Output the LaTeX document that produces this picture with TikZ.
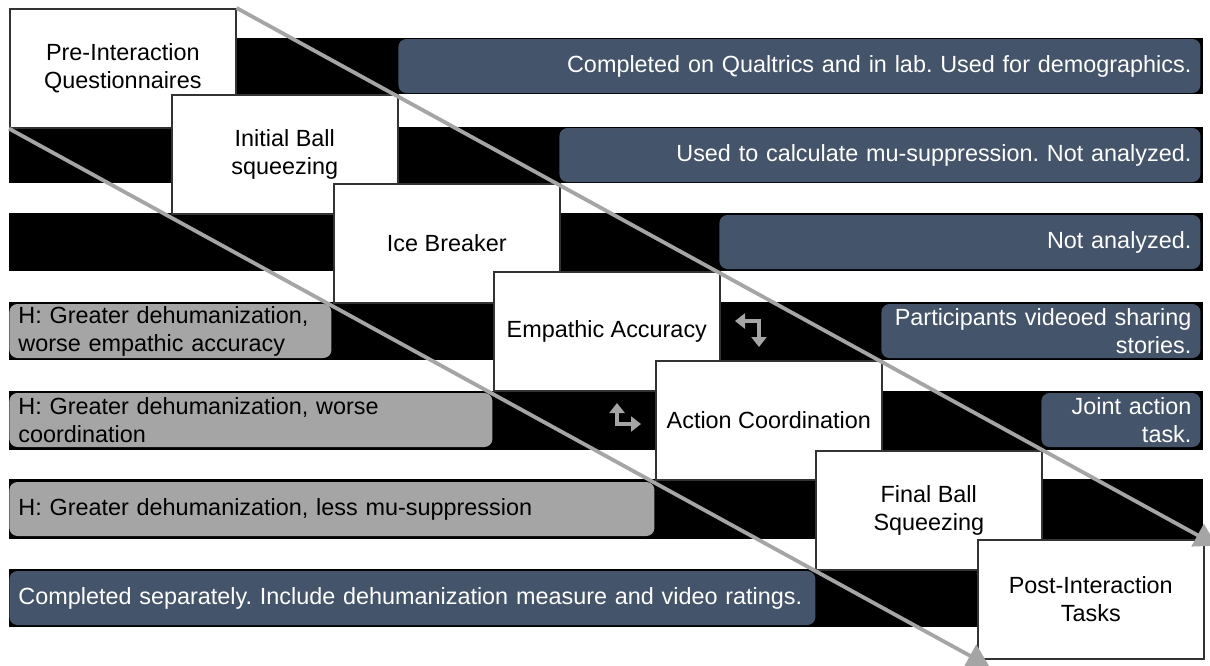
\documentclass[tikz,border=0pt]{standalone}
\usepackage{fontspec}
\setmainfont{Liberation Sans}
\usepackage{tikz}
\usetikzlibrary{arrows.meta}
\usepackage{xcolor}
\definecolor{slate}{HTML}{44546A}
\definecolor{hypgray}{HTML}{A5A5A5}
\definecolor{flowgray}{HTML}{A5A5A5}
\frenchspacing

\begin{document}
\begin{tikzpicture}[x=0.5pt,y=-0.5pt,font=\fontsize{11.7}{14}\selectfont,
  stage/.style={draw=black!80,line width=0.8pt,fill=white,anchor=north west,align=center,inner sep=0pt,minimum width=113pt,minimum height=59.5pt},
  note/.style={fill=slate,text=white,rounded corners=4pt,anchor=west,align=right,inner xsep=4.5pt,inner ysep=0pt,minimum height=27pt},
  hyp/.style={fill=hypgray,text=black,rounded corners=4pt,anchor=west,align=left,inner xsep=4.5pt,inner ysep=0pt,minimum height=27pt},
  flow/.style={draw=flowgray,line width=1.9pt,-{Triangle[length=11pt,width=12.5pt]},shorten >=-7pt},
  turn/.style={draw=flowgray,line width=2.2pt,{Triangle[length=5pt,width=7.5pt]}-{Triangle[length=5pt,width=7.5pt]}}]
\useasboundingbox (0,0) rectangle (1210,665);
\fill (236,38) rectangle (1203,94);
\fill (9,127) rectangle (1203,183);
\fill (9,213) rectangle (1203,271);
\fill (9,302) rectangle (1203,360);
\fill (9,391) rectangle (1203,450);
\fill (9,479) rectangle (1203,539);
\fill (9,569) rectangle (977,627);
\node[note,text width=392pt] (qualtrics) at (398,66) {Completed on Qualtrics and in lab. Used for demographics.};
\node[note,text width=311.5pt] (musupp) at (559,155) {Used to calculate mu-suppression. Not analyzed.};
\node[note,text width=231.5pt] (icenote) at (719,242) {Not analyzed.};
\node[note,text width=150.5pt] (videos) at (881,331) {Participants videoed sharing\\stories.};
\node[note,text width=70.5pt] (joint) at (1041,420) {Joint action\\task.};
\node[hyp,text width=152pt] (hypea) at (9,331) {H: Greater dehumanization,\\worse empathic accuracy};
\node[hyp,text width=232.5pt] (hypac) at (9,420) {H: Greater dehumanization, worse\\coordination};
\node[hyp,text width=313.5pt] (hypmu) at (9,509) {H: Greater dehumanization, less mu-suppression};
\node[note,align=left,text width=394pt] (ratings) at (9,598) {Completed separately. Include dehumanization measure and video ratings.};
\node[stage] (pre) at (9,8) {Pre-Interaction\\Questionnaires};
\node[stage] (ball1) at (171,94) {Initial Ball\\squeezing};
\node[stage] (ice) at (333,183) {Ice Breaker};
\node[stage] (empathy) at (493,271) {Empathic Accuracy};
\node[stage] (action) at (655,360) {Action Coordination};
\node[stage] (ball2) at (815,450) {Final Ball\\Squeezing};
\node[stage] (post) at (977,539) {Post-Interaction\\Tasks};
\draw[flow] (pre.north east) -- (post.north east);
\draw[flow] (pre.south west) -- (post.south west);
\coordinate (eaturnA) at (735,321);
\coordinate (eaturnB) at (759,347);
\draw[turn] (eaturnA) -| (eaturnB);
\coordinate (acturnA) at (617,403);
\coordinate (acturnB) at (641,424);
\draw[turn] (acturnA) |- (acturnB);
\end{tikzpicture}
\end{document}
